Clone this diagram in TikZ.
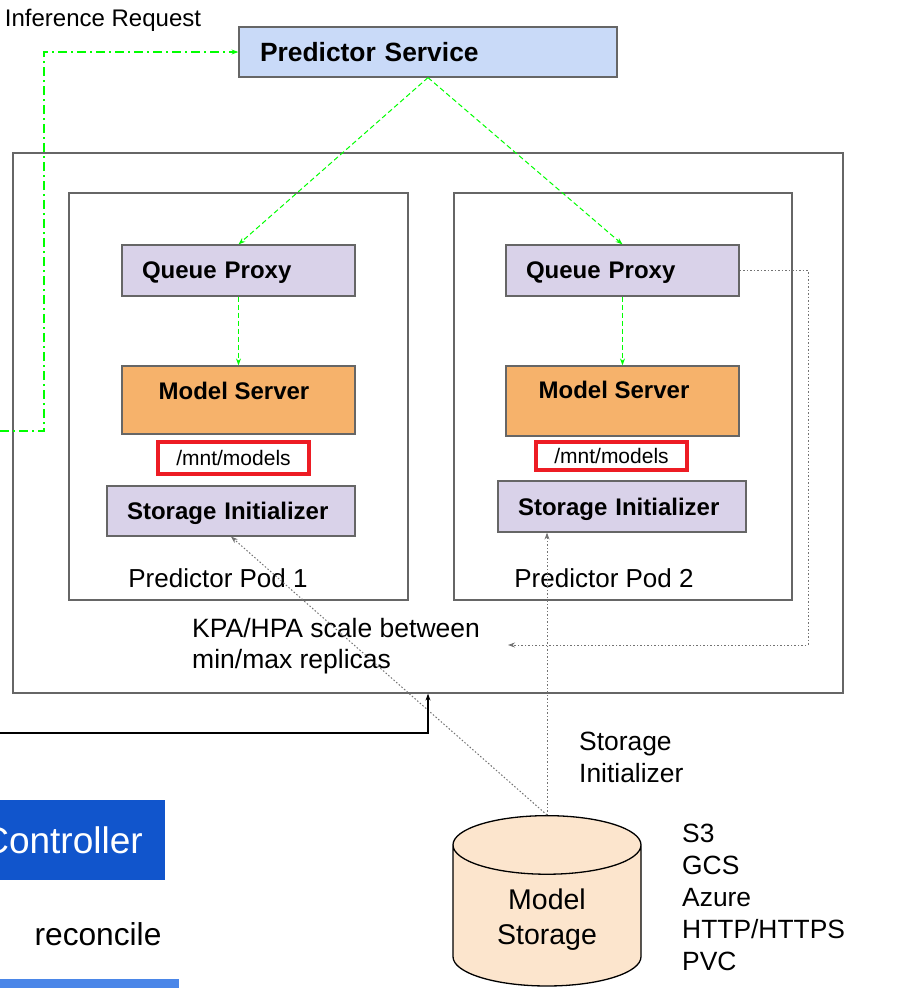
\documentclass[tikz,border=0pt]{standalone}
\usepackage{fontspec}
\setmainfont{Liberation Sans}
\usetikzlibrary{arrows.meta,shapes.geometric}

\definecolor{svcblue}{HTML}{C9DAF8}
\definecolor{qpurple}{HTML}{D9D2E9}
\definecolor{msorange}{HTML}{F6B26B}
\definecolor{mntred}{HTML}{ED1C24}
\definecolor{flowgreen}{HTML}{00FF00}
\definecolor{framegray}{HTML}{666666}
\definecolor{ctrlblue}{HTML}{1155CC}
\definecolor{barblue}{HTML}{4A86E8}
\definecolor{storefill}{HTML}{FCE5CD}

\begin{document}
\begin{tikzpicture}[x=1pt, y=-1pt,
    podframe/.style={draw=framegray, line width=1.2pt, inner sep=0pt},
    svcbox/.style={draw=framegray, line width=1.2pt, fill=svcblue, align=left,
      font=\bfseries\fontsize{26.4}{30}\selectfont, inner xsep=21pt, text width=336pt, minimum height=50pt},
    pxbox/.style={draw=framegray, line width=1.2pt, fill=qpurple, align=left, text depth=0pt,
      font=\bfseries\fontsize{24}{28}\selectfont, inner xsep=20pt, text width=#1, minimum height=51pt},
    msbox/.style={draw=framegray, line width=1.2pt, fill=msorange, inner sep=0pt,
      minimum width=233pt, minimum height=#1},
    mntbox/.style={draw=mntred, line width=4pt, inner sep=0pt, minimum width=151pt, minimum height=#1,
      font=\fontsize{21}{25}\selectfont},
    boldlab/.style={font=\bfseries\fontsize{24}{28}\selectfont},
    plainlab/.style={font=\fontsize{#1}{36}\selectfont, inner sep=0pt},
    listlab/.style={font=\fontsize{26.4}{32}\selectfont, align=left, anchor=west, inner sep=0pt},
    greenflow/.style={draw=flowgreen, line width=1pt, dash pattern=on 5pt off 3pt,
      -{Stealth[length=7pt,width=5pt,fill=flowgreen]}},
    reqflow/.style={draw=flowgreen, line width=1.3pt, dash pattern=on 9pt off 4pt on 2pt off 4pt,
      -{Stealth[length=7pt,width=5pt,fill=flowgreen]}},
    dotflow/.style={draw=black!55, line width=1pt, dash pattern=on 1.5pt off 2pt,
      -{Stealth[length=7pt,width=5pt,fill=black]}},
    ctrlflow/.style={draw=black, line width=1.3pt, -{Stealth[length=7pt,width=5pt]}}]

  \useasboundingbox (0,0) rectangle (914,988);
  \clip (0,0) rectangle (914,988);

  % service on top
  \node (req) at (103,20) [plainlab=24] {Inference Request};
  \node (ps) at (428,52) [svcbox] {Predictor Service};

  % frames
  \node (outer) at (428,423) [podframe, minimum width=830pt, minimum height=540pt] {};
  \node (pod1) at (238.5,396.5) [podframe, minimum width=339pt, minimum height=407pt] {};
  \node (pod2) at (623,396.5) [podframe, minimum width=338pt, minimum height=407pt] {};

  % pod 1
  \node (qp1) at (238.5,270.5) [pxbox=193pt] {Queue Proxy};
  \node (ms1) at (238.5,400) [msbox=68pt] {};
  \node (mst1) at (234,391) [boldlab] {Model Server};
  \node (mnt1) at (233.5,458) [mntbox=32pt] {/mnt/models};
  \node (si1) at (231,511) [pxbox=208pt, minimum height=50pt] {Storage Initializer};
  \node (pl1) at (218,578) [plainlab=26] {Predictor Pod 1};

  % pod 2
  \node (qp2) at (622.5,270.5) [pxbox=193pt] {Queue Proxy};
  \node (ms2) at (622.5,401) [msbox=70pt] {};
  \node (mst2) at (614,390) [boldlab] {Model Server};
  \node (mnt2) at (611.5,456) [mntbox=28pt] {/mnt/models};
  \node (si2) at (622,506.5) [pxbox=208pt] {Storage Initializer};
  \node (pl2) at (604,578) [plainlab=26] {Predictor Pod 2};

  \node (kpa) at (192,646) [listlab, font=\fontsize{26.5}{31}\selectfont] {KPA/HPA scale between\\min/max replicas};

  % storage
  \node (store) at (547,815) [cylinder, shape border rotate=90, aspect=0.55, anchor=north, draw=black,
    line width=1.3pt, fill=storefill, minimum width=188pt, minimum height=150pt, inner ysep=14pt,
    align=center, font=\fontsize{28.5}{35}\selectfont] {Model\\Storage};
  \node (silab) at (579,757) [listlab] {Storage\\Initializer};
  \node (kinds) at (682,897) [listlab] {S3\\GCS\\Azure\\HTTP/HTTPS\\PVC};

  % controller
  \node (ctrl) at (62.5,840) [fill=ctrlblue, minimum width=205pt, minimum height=80pt, inner sep=0pt,
    text=white, font=\fontsize{37}{42}\selectfont] {Controller};
  \node (rec) at (98,934) [plainlab=31.7] {reconcile};
  \node (bar) at (89.5,990) [fill=barblue, minimum width=179pt, minimum height=22pt, inner sep=0pt] {};

  \coordinate (reqin) at (0,431);
  \coordinate (reqturn) at (44,431);
  \coordinate (fbturn) at (808,645);
  \coordinate (kpaend) at (508,645);
  \coordinate (recin) at (0,733);

  \draw[reqflow] (reqin) -- (reqturn) |- (ps.west);
  \draw[greenflow] (ps.south) -- (qp1.north);
  \draw[greenflow] (ps.south) -- (qp2.north);
  \draw[greenflow] (qp1.south) -- (ms1.north);
  \draw[greenflow] (qp2.south) -- (ms2.north);

  \draw[dotflow] (qp2.east) -| (fbturn) -- (kpaend);
  \draw[dotflow] (store.north) -- (si1.south);
  \draw[dotflow] (store.north) -- (store.north |- si2.south);
  \draw[ctrlflow] (recin) -| (outer.south);

\end{tikzpicture}
\end{document}
